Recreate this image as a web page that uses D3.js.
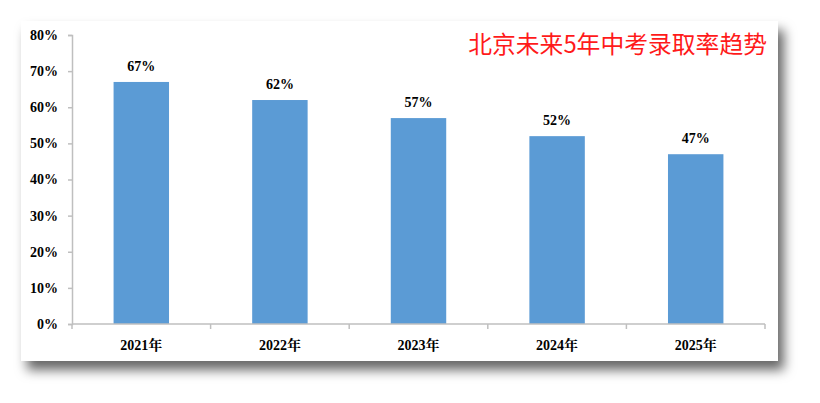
<!DOCTYPE html>
<html>
<head>
<meta charset="utf-8">
<script src="https://cdn.jsdelivr.net/npm/d3@7"></script>
<style>
  body { margin: 0; background: #fff; }
</style>
</head>
<body>
<div id="chart"></div>
<script>
// chart data
var years = ["2021年", "2022年", "2023年", "2024年", "2025年"];
var rates = [67, 62, 57, 52, 47];
var yTicks = [0, 10, 20, 30, 40, 50, 60, 70, 80];
var title = "北京未来5年中考录取率趋势";

(function(){
  "use strict";

  var width = 820, height = 403;
  var svg = d3.select("#chart").append("svg")
      .attr("width", width)
      .attr("height", height);

  // soft shadow behind the card
  var defs = svg.append("defs");
  var f = defs.append("filter").attr("id", "shadow")
      .attr("x", "-10%").attr("y", "-10%").attr("width", "125%").attr("height", "135%");
  f.append("feDropShadow")
      .attr("dx", 6).attr("dy", 9)
      .attr("stdDeviation", 6)
      .attr("flood-color", "#000")
      .attr("flood-opacity", 0.6);

  svg.append("rect")
      .attr("x", 21).attr("y", 21)
      .attr("width", 757).attr("height", 340)
      .attr("fill", "#fff")
      .attr("filter", "url(#shadow)");

  var left = 72, right = 765, top = 35, bottom = 324;

  var x = d3.scaleBand().domain(years).range([left, right]).paddingInner(0.6).paddingOuter(0.3);
  var xb = d3.scaleBand().domain(years).range([left, right]); // for tick marks on band edges
  var y = d3.scaleLinear().domain([0, 80]).range([bottom, top]);

  var serif = "'Liberation Serif', 'Times New Roman', 'Noto Serif CJK SC', serif";
  var axisColor = "#bfbfbf";

  // y axis
  var yAxis = svg.append("g").attr("transform", "translate(" + left + ",0)")
      .call(d3.axisLeft(y).tickValues(yTicks).tickSize(4).tickPadding(10)
        .tickFormat(function(d){ return d + "%"; }));
  yAxis.select(".domain").attr("stroke", axisColor).attr("stroke-width", 1.5);
  yAxis.selectAll(".tick line").attr("stroke", axisColor).attr("stroke-width", 1.5);
  yAxis.selectAll(".tick text")
      .attr("font-family", serif).attr("font-weight", "bold")
      .attr("font-size", 14).attr("fill", "#000");

  // bars
  svg.append("g").selectAll("rect")
      .data(rates)
      .enter().append("rect")
      .attr("x", function(d, i){ return x(years[i]); })
      .attr("width", x.bandwidth())
      .attr("y", function(d){ return y(d); })
      .attr("height", function(d){ return bottom - y(d); })
      .attr("fill", "#5b9bd5");

  // value labels
  svg.append("g").selectAll("text")
      .data(rates)
      .enter().append("text")
      .attr("x", function(d, i){ return x(years[i]) + x.bandwidth() / 2; })
      .attr("y", function(d){ return y(d) - 11; })
      .attr("text-anchor", "middle")
      .attr("font-family", serif).attr("font-weight", "bold")
      .attr("font-size", 14)
      .text(function(d){ return d + "%"; });

  // x axis: line plus ticks at band edges
  var edges = years.map(function(d){ return xb(d); }).concat([right]);
  var xAxis = svg.append("g");
  xAxis.append("line")
      .attr("x1", left).attr("x2", right)
      .attr("y1", bottom).attr("y2", bottom)
      .attr("stroke", axisColor).attr("stroke-width", 1.5);
  xAxis.selectAll("line.tk")
      .data(edges)
      .enter().append("line").attr("class", "tk")
      .attr("x1", function(d){ return d; }).attr("x2", function(d){ return d; })
      .attr("y1", bottom).attr("y2", bottom + 5)
      .attr("stroke", axisColor).attr("stroke-width", 1.5);
  xAxis.selectAll("text")
      .data(years)
      .enter().append("text")
      .attr("x", function(d){ return xb(d) + xb.bandwidth() / 2; })
      .attr("y", bottom + 26)
      .attr("text-anchor", "middle")
      .attr("font-family", serif).attr("font-weight", "bold")
      .attr("font-size", 14)
      .text(function(d){ return d; });

  // title
  svg.append("text")
      .attr("x", 767).attr("y", 53)
      .attr("text-anchor", "end")
      .attr("font-family", "'Noto Sans CJK SC', sans-serif")
      .attr("font-size", 23.8)
      .attr("fill", "#ff1a1a")
      .text(title);
})();
</script>
</body>
</html>
